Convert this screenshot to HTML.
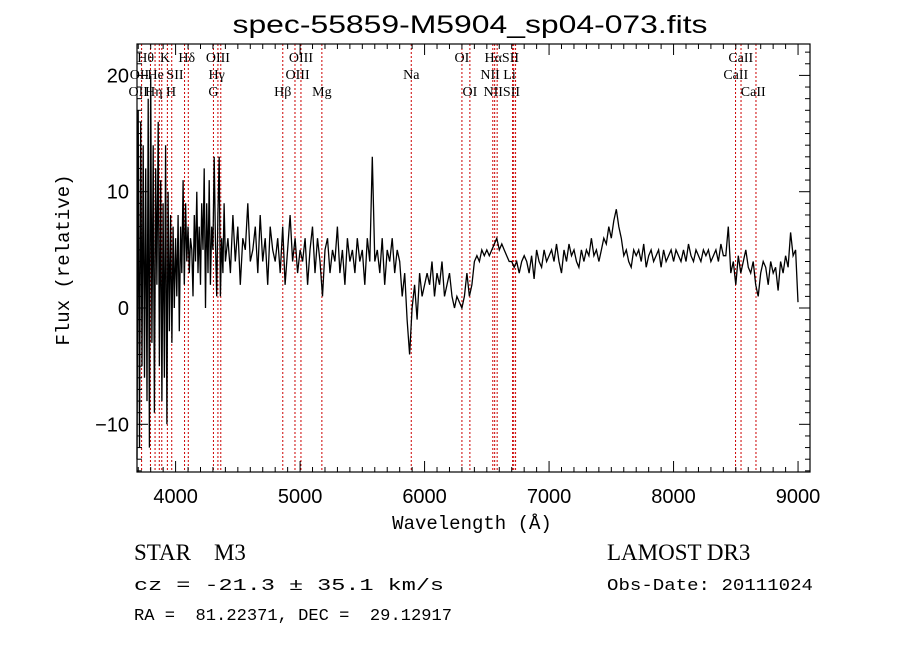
<!DOCTYPE html>
<html><head><meta charset="utf-8"><style>
body{margin:0;background:#fff;}
svg{display:block;}
text{white-space:pre;}
</style></head><body>
<svg id="chart" width="900" height="649" xmlns="http://www.w3.org/2000/svg">
<rect x="0" y="0" width="900" height="649" fill="#fff"/>
<g id="lines"></g>
<g id="labels" font-family="Liberation Serif, serif" font-size="14" fill="#000"></g>
<path id="spec" fill="none" stroke="#000" stroke-width="1.3"/>
<rect x="137" y="44" width="673" height="428" fill="none" stroke="#000" stroke-width="1.2"/>
<g id="ticks" stroke="#000" stroke-width="1"></g>
<g id="ticklabels" font-family="Liberation Sans, sans-serif" font-size="20" fill="#000"></g>
<text x="470" y="33" text-anchor="middle" font-family="Liberation Sans, sans-serif" font-size="25" textLength="475" lengthAdjust="spacingAndGlyphs">spec-55859-M5904_sp04-073.fits</text>
<text x="472" y="529" text-anchor="middle" font-family="Liberation Mono, monospace" font-size="19">Wavelength (Å)</text>
<text transform="translate(69,260) rotate(-90)" text-anchor="middle" font-family="Liberation Mono, monospace" font-size="19">Flux (relative)</text>
<text x="134" y="560" font-family="Liberation Serif, serif" font-size="23" xml:space="preserve">STAR    M3</text>
<text x="607" y="560" font-family="Liberation Serif, serif" font-size="23">LAMOST DR3</text>
<text x="134" y="590" font-family="Liberation Mono, monospace" font-size="17" textLength="310" lengthAdjust="spacingAndGlyphs">cz = -21.3 ± 35.1 km/s</text>
<text x="607" y="590" font-family="Liberation Mono, monospace" font-size="17" textLength="206" lengthAdjust="spacingAndGlyphs">Obs-Date: 20111024</text>
<text x="134" y="620" font-family="Liberation Mono, monospace" font-size="17" xml:space="preserve" textLength="318" lengthAdjust="spacingAndGlyphs">RA =  81.22371, DEC =  29.12917</text>
</svg>
<script>
// blue part: 3690..4400 Å every 10 Å
const blueStart = 3690, blueStep = 10;
const blueFlux = [
-13,17,-12,16,-5,14,-6,12,-8,18,
-12,20,-3,14,-9,12,2,16,-5,11,
-8,9,-6,14,-10,10,-2,8,-3,7,
0,6,1,8,-2,7,3,11,2,9,
4,7,3,6,5,1,8,4,10,3,
7,2,9,5,12,0,9,3,11,2,
7,5,13,6,1,8,13,1,6,3,
9,4];
// red part: 4420..9000 Å every 20 Å
const redStart = 4420, redStep = 20;
const redFlux = [
6,3,8,4,7,2,6,5,9,4,
5,7,3,8,4,6,2,7,5,4,
6,3,7,2,5,8,4,6,3,5,
4,6,2,5,7,3,6,4,1,5,
6,3,5,4,7,3,5,2,6,4,
5,3,6,4,5,2,6,4,13,4,
5,3,6,2,5,4,6,3,5,4,
1,3,-1,-4,0,2,-1,3,1,2,
3,2,4,1,3,2,4,1,2,3,
1,0,1,0.5,0,1,3,1,2,4,
4.5,4,5,4.5,5,4.5,5,5.5,6,5,
5.5,5,4.5,4,4,3.5,4,3,4,4.5,
4,3,4.5,2.5,5,4,3.5,5,4,4.5,
5,4,5.5,4,3,5,4,5.5,4.5,5,
4,3.5,5,4,5,4.5,6,4.5,5,4,
5,6,5.5,7,6,7.5,8.5,7,6,4.5,
5,4,3.5,5,4.5,5,4,5.5,3.5,4.5,
5,4,4.5,5,3.5,5,4,4.5,5,4,
5,4.5,4,5,4,5.5,4.5,4,5,4.5,
4,5,4.5,5,4,4.5,5,4,5.5,4.5,
4.5,7,3,4,2,4.5,3,4,5,3.5,
3,4,2,1,3,4,3.5,2,4,3,
3.5,1.5,4,3,4.5,3.5,6.5,4.5,5,0.5];
const lineWaves = [3727,3798,3835,3869,3889,3934,3969,4072,4102,4304,4340,4363,4861,4959,5007,5175,5893,6300,6364,6548,6563,6583,6707,6716,6731,8498,8542,8662];
const labelTexts = ["Hθ","K","Hδ","OIII","OIII","OI","HαSII","CaII","OII","He","SII","Hγ","OIII","Na","NII Li","CaII","OII","Hη H","G","Hβ","Mg","OI","NIISII","CaII"];
const labelWaves = [3760,3915,4090,4340,5007,6300,6620,8540,3710,3840,3995,4330,4980,5893,6590,8500,3700,3880,4304,4861,5175,6364,6620,8640];
const labelRows = [0,0,0,0,0,0,0,0,1,1,1,1,1,1,1,1,2,2,2,2,2,2,2,2];
const xTicks = [4000,5000,6000,7000,8000,9000];
const yTicks = [-10,0,10,20];

const X0=137,X1=810,Y0=44,Y1=472;
const xMin=3690, xMax=9096, yMin=-14.1, yMax=22.7;
const xs = w => X0 + (w-xMin)/(xMax-xMin)*(X1-X0);
const ys = f => Y1 - (f-yMin)/(yMax-yMin)*(Y1-Y0);
const NS="http://www.w3.org/2000/svg";

const pts=[];
blueFlux.forEach((f,i)=>pts.push([blueStart+i*blueStep,f]));
redFlux.forEach((f,i)=>pts.push([redStart+i*redStep,f]));
let d="";
pts.forEach((p,i)=>{
  const f=Math.max(yMin,Math.min(yMax,p[1]));
  d+=(i?"L":"M")+xs(p[0]).toFixed(1)+","+ys(f).toFixed(1);
});
document.getElementById('spec').setAttribute('d',d);

const lg=document.getElementById('lines');
lineWaves.forEach(w=>{
  const l=document.createElementNS(NS,'line');
  
  
  const x=xs(w);
  l.setAttribute('x1',x);l.setAttribute('x2',x);l.setAttribute('y1',Y0);l.setAttribute('y2',Y1);
  l.setAttribute('stroke','#c00');l.setAttribute('stroke-width','1');l.setAttribute('stroke-dasharray','2,2');
  lg.appendChild(l);
});

const lb=document.getElementById('labels');
const rowY=[62,79,96];
labelTexts.forEach((t,i)=>{
  const e=document.createElementNS(NS,'text');
  
  
  e.setAttribute('x',xs(labelWaves[i]));e.setAttribute('y',rowY[labelRows[i]]);
  e.setAttribute('text-anchor','middle');
  e.textContent=t;
  lb.appendChild(e);
});

const tg=document.getElementById('ticks'), tl=document.getElementById('ticklabels');
function tick(x1,y1,x2,y2){
  const l=document.createElementNS(NS,'line');
  
  
  l.setAttribute('x1',x1);l.setAttribute('y1',y1);l.setAttribute('x2',x2);l.setAttribute('y2',y2);
  tg.appendChild(l);
}
for(let w=3700;w<=9000;w+=100){
  const x=xs(w), L=(w%1000===0)?11:5;
  tick(x,Y1,x,Y1-L); tick(x,Y0,x,Y0+L);
}
for(let v=-14;v<=22;v+=1){
  const y=ys(v), L=(v%10===0)?11:5;
  tick(X0,y,X0+L,y); tick(X1,y,X1-L,y);
}
xTicks.forEach(v=>{
  const e=document.createElementNS(NS,'text');
  
  
  e.setAttribute('x',xs(v));e.setAttribute('y',503);e.setAttribute('text-anchor','middle');
  e.textContent=v; tl.appendChild(e);
});
yTicks.forEach(v=>{
  const e=document.createElementNS(NS,'text');
  
  
  e.setAttribute('x',129);e.setAttribute('y',ys(v)+7);e.setAttribute('text-anchor','end');
  e.textContent=(v<0?"\u2212"+(-v):v); tl.appendChild(e);
});
</script>
</body></html>
